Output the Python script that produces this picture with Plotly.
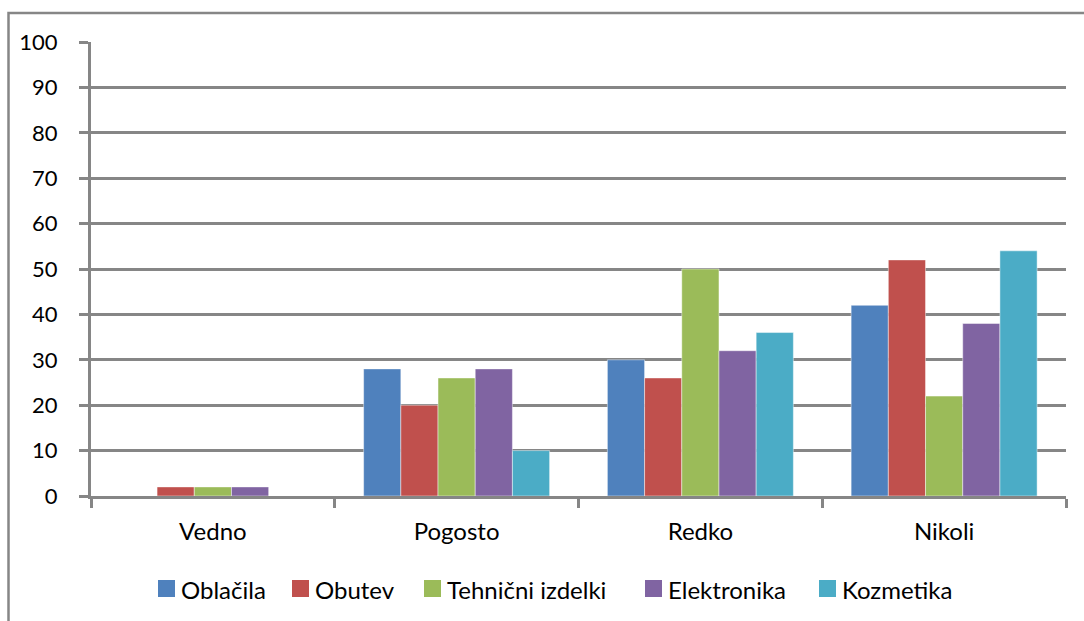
import plotly.graph_objects as go

categories = ["Vedno", "Pogosto", "Redko", "Nikoli"]

oblacila = [0, 28, 30, 42]
obutev = [2, 20, 26, 52]
tehnicni_izdelki = [2, 26, 50, 22]
elektronika = [2, 28, 32, 38]
kozmetika = [0, 10, 36, 54]

series_names = ["Oblačila", "Obutev", "Tehnični izdelki", "Elektronika", "Kozmetika"]
series_values = [oblacila, obutev, tehnicni_izdelki, elektronika, kozmetika]
series_colors = ["#4F81BD", "#C0504D", "#9BBB59", "#8064A2", "#4BACC6"]

y_ticks = [0, 10, 20, 30, 40, 50, 60, 70, 80, 90, 100]

GRAY = "#868686"
FONT = "Lato, Carlito, 'Open Sans', sans-serif"

# plot area in pixels
W, H = 1084, 621
L, R, T, B = 91, 18, 42, 125
PW, PH = W - L - R, H - T - B


def px_x(px):
    return (px - L) / PW


def px_y(py):
    return (H - B - py) / PH


fig = go.Figure()
for name, vals, color in zip(series_names, series_values, series_colors):
    fig.add_trace(go.Bar(
        x=categories, y=vals, name=name, showlegend=False,
        marker=dict(color=color, line=dict(color="rgba(255,255,255,0.45)", width=1)),
    ))

fig.update_layout(
    width=W, height=H,
    margin=dict(l=L, r=R, t=T, b=B),
    paper_bgcolor="white", plot_bgcolor="white",
    barmode="group", bargap=0.237, bargroupgap=0,
    font=dict(family=FONT, size=24, color="black"),
    showlegend=False,
    xaxis=dict(
        showgrid=False, showline=True, linecolor=GRAY, linewidth=3,
        ticks="outside", tickson="boundaries", ticklen=9, tickwidth=3, tickcolor=GRAY,
        ticklabelstandoff=12, tickfont=dict(size=24),
    ),
    yaxis=dict(
        range=[0, 100], tickvals=y_ticks, showgrid=True, gridcolor=GRAY, gridwidth=3,
        showline=True, linecolor=GRAY, linewidth=3, zeroline=False,
        ticks="outside", ticklen=9, tickwidth=3, tickcolor=GRAY,
        ticklabelstandoff=17, tickfont=dict(size=22),
    ),
)

# chart area border
fig.add_shape(
    type="rect", xref="paper", yref="paper",
    x0=px_x(8.5), x1=px_x(1100), y0=px_y(640), y1=px_y(13),
    line=dict(color=GRAY, width=2.5), fillcolor="rgba(0,0,0,0)", layer="below",
)

# legend: colour swatch followed by series name
legend_swatch_x = [158, 292, 424, 645, 819]
for name, color, sx in zip(series_names, series_colors, legend_swatch_x):
    fig.add_shape(
        type="rect", xref="paper", yref="paper",
        x0=px_x(sx), x1=px_x(sx + 17), y0=px_y(597), y1=px_y(580),
        line=dict(width=0), fillcolor=color,
    )
    fig.add_annotation(
        text=name, xref="paper", yref="paper",
        x=px_x(sx + 22), y=px_y(589), xanchor="left", yanchor="middle",
        showarrow=False, font=dict(size=24, family=FONT, color="black"),
        borderpad=0,
    )

fig.write_html("out.html")
